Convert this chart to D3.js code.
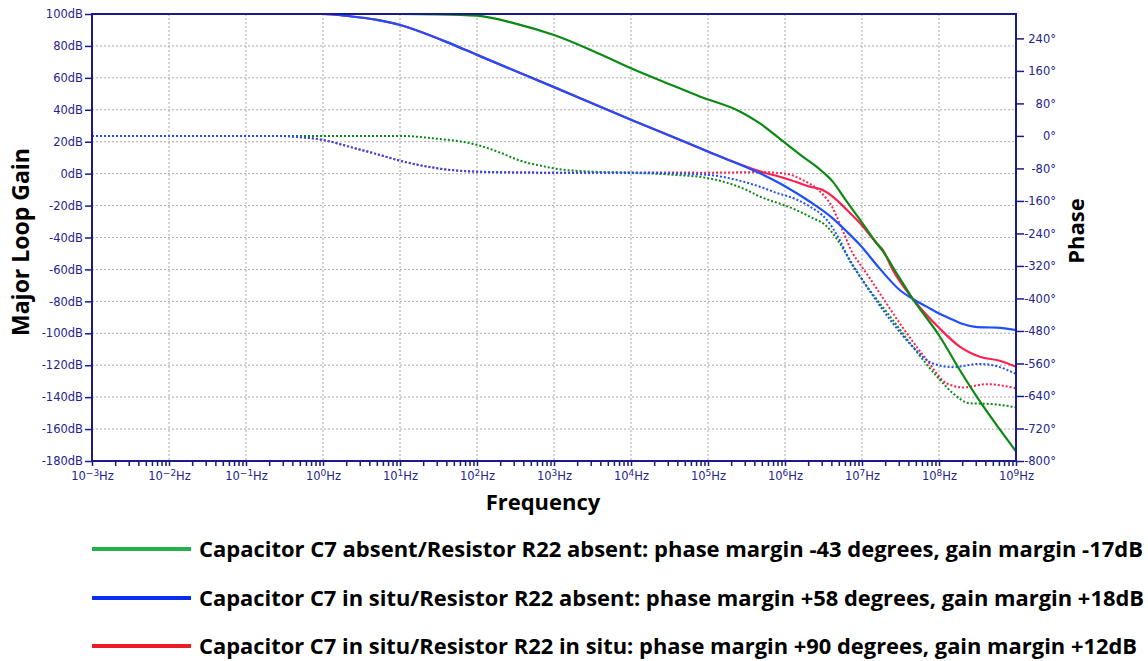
<!DOCTYPE html>
<html><head><meta charset="utf-8">
<script src="https://cdn.jsdelivr.net/npm/d3@7"></script>
<style>
body{margin:0;background:#fff;}
svg text{font-family:"DejaVu Sans",sans-serif;}
</style>
</head><body>
<svg id="chart" width="1148" height="661"></svg>
<script>
// ---------- data (frequency as log10 Hz) ----------
const gainTicks = d3.range(-180, 101, 20);
const phaseTicks = d3.range(-800, 241, 80);
const freqDecades = d3.range(-3, 10);

// Gain (dB), solid lines
const greenGainExp = [-3, 1, 1.5, 2, 2.5, 3, 3.5, 4, 4.5, 4.9, 5.42, 5.675, 5.98, 6.2, 6.48, 6.62, 6.78, 6.975, 7.19, 7.27, 7.45, 7.66, 8.01, 8.27, 8.49, 8.7, 9];
const greenGain    = [100, 100, 99.8, 99, 94, 86.8, 77, 66, 56, 48.2, 38.8, 31.5, 20, 11.7, 1.5, -5, -16, -29, -43.6, -48.5, -62.4, -78.5, -102, -123, -139.7, -154.3, -174];

const blueGainExp = [-3, 0, 0.35, 0.7, 1, 1.3, 1.65, 2, 3, 4, 4.9, 5, 5.675, 6.01, 6.325, 6.62, 6.805, 6.975, 7.23, 7.49, 7.66, 7.84, 8.01, 8.18, 8.3, 8.45, 8.6, 8.75, 9];
const blueGain    = [100, 100, 98.6, 96.3, 93.1, 88.3, 81.6, 74.4, 54.2, 33.8, 15.9, 13.8, 0.2, -8.2, -17.6, -28, -36.4, -44.7, -59.5, -72.9, -78.5, -83.3, -87.8, -91.5, -94, -95.8, -96.3, -96.5, -98];

const redGainExp = [-3, 0, 0.35, 0.7, 1, 1.3, 1.65, 2, 3, 4, 5, 5.3, 5.675, 6.01, 6.325, 6.49, 6.62, 6.805, 6.975, 7.19, 7.27, 7.4, 7.66, 8.01, 8.27, 8.53, 8.79, 9];
const redGain    = [100, 100, 98.6, 96.3, 93.1, 88.3, 81.6, 74.4, 54.2, 33.8, 13.8, 8, 1.4, -3, -8.2, -10.3, -14.4, -22.8, -31.1, -43.6, -47.8, -60.4, -78.5, -97, -108.4, -114.7, -117.2, -121];

// Phase (degrees), dotted lines
const greenPhaseExp = [-3, 1, 1.43, 2, 2.3, 2.56, 2.82, 3, 3.5, 4, 4.5, 5, 5.5, 5.675, 5.935, 6.01, 6.325, 6.545, 6.71, 6.84, 6.975, 7.4, 7.66, 8.01, 8.18, 8.4, 8.7, 9];
const greenPhase    = [0, 0, -6, -22, -41, -61, -73, -80, -88, -90.5, -95, -104, -133, -149.5, -167, -172, -199, -223, -264, -305, -346, -453, -519, -600, -633, -658, -660, -668];

const bluePhaseExp = [-3, -0.6, -0.3, 0, 0.35, 0.74, 1, 1.43, 2, 3, 4, 4.5, 5, 5.675, 5.935, 6.01, 6.325, 6.545, 6.71, 6.84, 6.975, 7.4, 7.66, 7.92, 8.18, 8.53, 8.79, 9];
const bluePhase    = [0, 0, -3, -10, -27, -47, -61, -78, -88, -90.5, -90.5, -92, -96, -125, -143, -147, -174, -207, -256, -307, -346, -461, -519, -560, -569, -561, -569, -586];

const redPhaseExp = [-3, -0.6, -0.3, 0, 0.35, 0.74, 1, 1.43, 2, 3, 4, 4.5, 5, 5.675, 6.01, 6.23, 6.455, 6.61, 6.745, 6.88, 6.975, 7.1, 7.23, 7.49, 7.84, 8.1, 8.31, 8.62, 9];
const redPhase    = [0, 0, -3, -10, -27, -47, -61, -78, -88, -90.5, -90.5, -90, -90.5, -89, -93, -108.5, -137, -174, -231, -289, -316, -350, -387, -461, -551, -609, -619, -611, -621];

const legendLabels = [
  "Capacitor C7 absent/Resistor R22 absent: phase margin -43 degrees, gain margin -17dB",
  "Capacitor C7 in situ/Resistor R22 absent: phase margin +58 degrees, gain margin +18dB",
  "Capacitor C7 in situ/Resistor R22 in situ: phase margin +90 degrees, gain margin +12dB"
];

// ---------- layout ----------
const svg = d3.select("#chart");
const L = 92, R = 1016, T = 14, B = 461;
const navy = "#1a1a8a", labelCol = "#24248f";
const colGreen = "#0b8a12", colBlue = "#1d4fff", colRed = "#ff1f4f";
const legGreen = "#22b14c", legBlue = "#0a2cf0", legRed = "#ed1c24";

const x = d3.scaleLog().domain([1e-3, 1e9]).range([L, R]);
const yG = d3.scaleLinear().domain([-180, 100]).range([B, T]);
const yP = d3.scaleLinear().domain([-800, 300]).range([B, T]);

// grid
const grid = svg.append("g");
grid.selectAll(".vg").data(freqDecades.slice(1, -1)).join("line")
  .attr("x1", d => x(Math.pow(10, d))).attr("x2", d => x(Math.pow(10, d)))
  .attr("y1", T).attr("y2", B)
  .attr("stroke", "#a8a8a8").attr("stroke-width", 1).attr("stroke-dasharray", "2,2");
grid.selectAll(".hg").data(gainTicks.slice(1, -1)).join("line")
  .attr("x1", L).attr("x2", R)
  .attr("y1", d => yG(d)).attr("y2", d => yG(d))
  .attr("stroke", "#a8a8a8").attr("stroke-width", 1).attr("stroke-dasharray", "2,2");

// clip
svg.append("clipPath").attr("id", "clip").append("rect")
  .attr("x", L).attr("y", T - 2).attr("width", R - L).attr("height", B - T + 4);
const plot = svg.append("g").attr("clip-path", "url(#clip)");

function pts(ex, vals) { return ex.map((e, i) => [e, vals[i]]); }
const lineG = d3.line().x(d => x(Math.pow(10, d[0]))).y(d => yG(d[1])).curve(d3.curveMonotoneX);
const lineP = d3.line().x(d => x(Math.pow(10, d[0]))).y(d => yP(d[1])).curve(d3.curveMonotoneX);

const phaseSeries = [
  {p: pts(redPhaseExp, redPhase), c: colRed},
  {p: pts(greenPhaseExp, greenPhase), c: colGreen},
  {p: pts(bluePhaseExp, bluePhase), c: colBlue}
];
phaseSeries.forEach(s => plot.append("path").attr("d", lineP(s.p))
  .attr("fill", "none").attr("stroke", s.c).attr("stroke-width", 2).attr("stroke-dasharray", "2,2"));

const gainSeries = [
  {p: pts(redGainExp, redGain), c: colRed},
  {p: pts(blueGainExp, blueGain), c: colBlue},
  {p: pts(greenGainExp, greenGain), c: colGreen}
];
gainSeries.forEach(s => plot.append("path").attr("d", lineG(s.p))
  .attr("fill", "none").attr("stroke", s.c).attr("stroke-width", 2.2));

// axes
function styleAxis(g) {
  g.selectAll(".domain").remove();
  g.selectAll(".tick line").attr("stroke", navy).attr("stroke-width", 1.5);
  g.selectAll(".tick text").attr("fill", labelCol).style("font-size", "11.5px").style("font-family", "DejaVu Sans");
}
const axL = svg.append("g").attr("transform", `translate(${L},0)`)
  .call(d3.axisLeft(yG).tickValues(gainTicks).tickSize(7).tickPadding(2).tickFormat(d => d + "dB"));
styleAxis(axL);

const axR = svg.append("g").attr("transform", `translate(${R},0)`)
  .call(d3.axisRight(yP).tickValues(phaseTicks).tickSize(8).tickPadding(1).tickFormat(d => d + "°"));
styleAxis(axR);
axR.selectAll(".tick text").attr("text-anchor", "end").attr("x", 40);

const minor = [];
freqDecades.slice(0, -1).forEach(d => { for (let k = 2; k <= 9; k++) minor.push(k * Math.pow(10, d)); });
const axBm = svg.append("g").attr("transform", `translate(0,${B})`)
  .call(d3.axisBottom(x).tickValues(minor).tickSize(5).tickFormat(""));
styleAxis(axBm);
const axB = svg.append("g").attr("transform", `translate(0,${B})`)
  .call(d3.axisBottom(x).tickValues(freqDecades.map(d => Math.pow(10, d))).tickSize(5).tickPadding(4).tickFormat(""));
styleAxis(axB);
axB.selectAll(".tick text").each(function(v) {
  const e = Math.round(Math.log10(v));
  const t = d3.select(this).attr("dy", null).attr("y", 19);
  t.append("tspan").text("10");
  t.append("tspan").attr("dy", -4).style("font-size", "9px").text(e < 0 ? "\u2212" + (-e) : String(e));
  t.append("tspan").attr("dy", 4).text("Hz");
});

// frame
svg.append("rect").attr("x", L).attr("y", T).attr("width", R - L).attr("height", B - T)
  .attr("fill", "none").attr("stroke", navy).attr("stroke-width", 2);

// titles
svg.append("text").attr("transform", "translate(28.5,242) rotate(-90)").attr("text-anchor", "middle")
  .style("font-family", "Open Sans").style("font-weight", "bold").style("font-size", "23px").attr("fill", "#000")
  .text("Major Loop Gain");
svg.append("text").attr("transform", "translate(1084,231) rotate(-90)").attr("text-anchor", "middle")
  .style("font-family", "Open Sans").style("font-weight", "bold").style("font-size", "22px").attr("fill", "#000")
  .text("Phase");
svg.append("text").attr("x", 543).attr("y", 510).attr("text-anchor", "middle")
  .style("font-family", "Open Sans").style("font-weight", "bold").style("font-size", "22px").attr("fill", "#000")
  .text("Frequency");

// legend
const legCols = [legGreen, legBlue, legRed];
const legY = [549, 598, 646];
const legLen = [944, 945, 938];
legendLabels.forEach((t, i) => {
  svg.append("line").attr("x1", 92).attr("x2", 191).attr("y1", legY[i]).attr("y2", legY[i])
    .attr("stroke", legCols[i]).attr("stroke-width", 4);
  svg.append("text").attr("x", 199).attr("y", legY[i] + 8)
    .style("font-family", "Open Sans").style("font-weight", "bold").style("font-size", "21px").attr("fill", "#000")
    .attr("textLength", legLen[i]).attr("lengthAdjust", "spacingAndGlyphs")
    .text(t);
});
</script>
</body></html>
